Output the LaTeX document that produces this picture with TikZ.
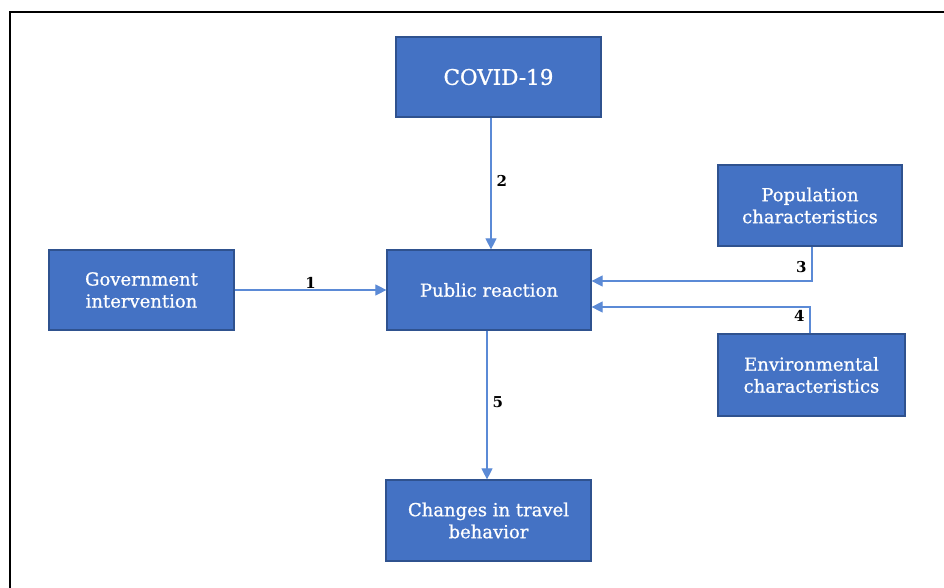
\documentclass[tikz,border=0pt]{standalone}
\usepackage{fontspec}
\setmainfont{DejaVu Serif}
\newfontfamily\boxfont[FakeBold=0.8]{DejaVu Serif}
\usetikzlibrary{arrows.meta}
\definecolor{boxfill}{HTML}{4472C4}
\definecolor{boxline}{HTML}{2F528F}
\definecolor{arrowc}{HTML}{5B8AD6}
\tikzset{
  blk/.style={draw=boxline, line width=1.2pt, fill=boxfill, text=white, align=center, inner sep=0pt, font=\boxfont\fontsize{18}{22}\selectfont},
  conn/.style={draw=arrowc, line width=1.1pt, -{Triangle[length=11pt,width=11pt]}},
  num/.style={font=\bfseries\fontsize{15}{17}\selectfont, text=black, inner sep=1pt}
}
\begin{document}
\begin{tikzpicture}[x=1pt,y=-1pt]
\clip (0,0) rectangle (944,588);
\fill[white] (0,0) rectangle (944,588);
\draw[line width=2pt, black] (10,12) rectangle (980,620);

\node[blk, minimum width=205pt, minimum height=80pt, font=\boxfont\fontsize{21.5}{25}\selectfont] (covid) at (498.5,77) {COVID-19};
\node[blk, minimum width=185pt, minimum height=80pt] (gov) at (141.5,290) {Government\\intervention};
\node[blk, minimum width=204pt, minimum height=80pt] (pub) at (489,290) {Public reaction};
\node[blk, minimum width=184pt, minimum height=81pt] (pop) at (810,205.5) {Population\\characteristics};
\node[blk, minimum width=187pt, minimum height=82pt] (env) at (811.5,375) {Environmental\\characteristics};
\node[blk, minimum width=205pt, minimum height=81pt] (chg) at (488.5,520.5) {Changes in travel\\behavior};

\draw[conn] (gov.east) -- (pub.west) node[num, pos=0.5, above] {1};
\draw[conn] (covid.south -| 491,0) -- (pub.north -| 491,0) node[num, pos=0.48, right=4pt] {2};
\draw[conn] (pop.south -| 812,0) |- (pub.east |- 0,281) node[num, pos=0.3, left=4pt] {3};
\draw[conn] (env.north -| 810,0) |- (pub.east |- 0,307) node[num, pos=0.33, left=4pt] {4};
\draw[conn] (pub.south -| 487,0) -- (chg.north -| 487,0) node[num, pos=0.48, right=4pt] {5};
\end{tikzpicture}
\end{document}
